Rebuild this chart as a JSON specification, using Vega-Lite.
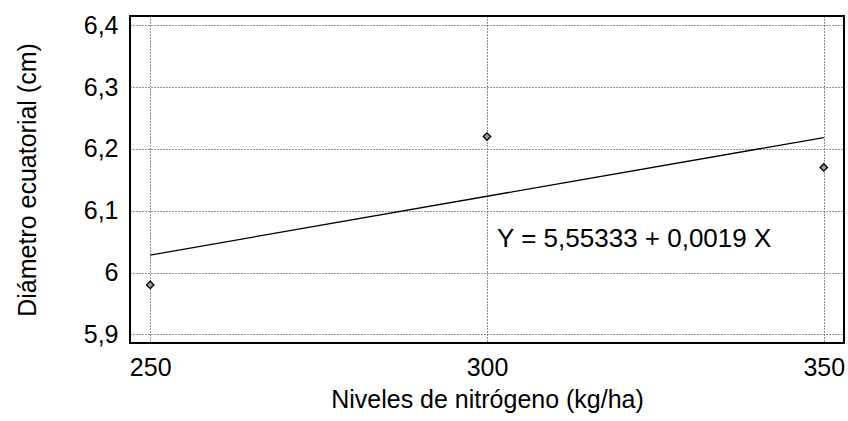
{
  "$schema": "https://vega.github.io/schema/vega-lite/v6.json",
  "width": 714,
  "height": 327,
  "autosize": {"type": "none"},
  "padding": {"left": 130, "top": 16, "right": 4, "bottom": 78},
  "background": "white",
  "config": {
    "font": "Liberation Sans",
    "view": {"stroke": "black", "strokeWidth": 2},
    "axis": {
      "labelFont": "Liberation Sans",
      "titleFont": "Liberation Sans",
      "labelColor": "black",
      "titleColor": "black",
      "labelFontSize": 25,
      "titleFontSize": 25,
      "titleFontWeight": "normal",
      "ticks": false,
      "domain": false,
      "grid": true,
      "gridColor": "#222222",
      "gridDash": [1, 2],
      "gridWidth": 1
    }
  },
  "datasets": {
    "pts": [
      {"n": 250, "d": 5.98},
      {"n": 300, "d": 6.22},
      {"n": 350, "d": 6.17}
    ],
    "fit": [
      {"n": 250, "d": 6.02833},
      {"n": 350, "d": 6.21833}
    ],
    "eq": [
      {"n": 301.5, "d": 6.055, "label": "Y = 5,55333 + 0,0019 X"}
    ]
  },
  "layer": [
    {
      "data": {"name": "fit"},
      "mark": {"type": "line", "color": "black", "strokeWidth": 1.3},
      "encoding": {
        "x": {
          "field": "n", "type": "quantitative",
          "scale": {"domain": [247, 353], "nice": false, "zero": false},
          "axis": {"values": [250, 300, 350], "title": "Niveles de nitrógeno (kg/ha)", "labelPadding": 12, "titleY": 44, "labelExpr": "toString(datum.value)"}
        },
        "y": {
          "field": "d", "type": "quantitative",
          "scale": {"domain": [5.886, 6.415], "nice": false, "zero": false},
          "axis": {"values": [5.9, 6.0, 6.1, 6.2, 6.3, 6.4], "title": "Diámetro ecuatorial (cm)", "labelPadding": 12, "titleX": -90, "labelExpr": "replace(toString(datum.value), '.', ',')"}
        }
      }
    },
    {
      "data": {"name": "pts"},
      "mark": {"type": "point", "shape": "diamond", "size": 55, "filled": true, "fill": "#999999", "stroke": "black", "strokeWidth": 1.3, "opacity": 1},
      "encoding": {
        "x": {"field": "n", "type": "quantitative"},
        "y": {"field": "d", "type": "quantitative"}
      }
    },
    {
      "data": {"name": "eq"},
      "mark": {"type": "text", "align": "left", "baseline": "middle", "fontSize": 26, "color": "black", "font": "Liberation Sans"},
      "encoding": {
        "x": {"field": "n", "type": "quantitative"},
        "y": {"field": "d", "type": "quantitative"},
        "text": {"field": "label"}
      }
    }
  ]
}
